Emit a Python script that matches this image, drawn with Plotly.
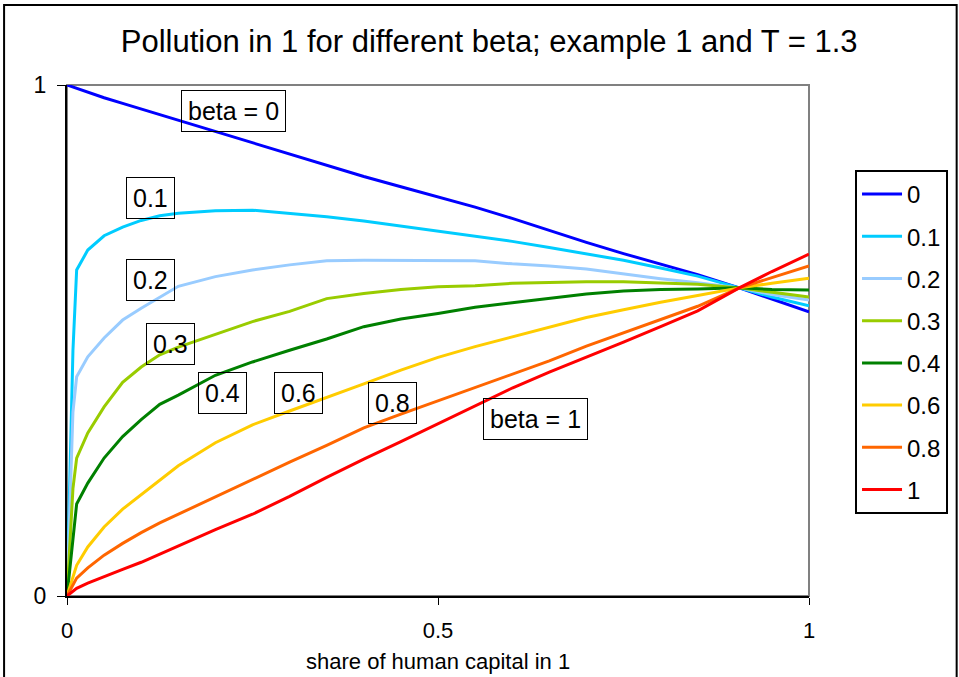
import plotly.graph_objects as go

# shared x grid (share of human capital)
x_share = [0, 0.004, 0.008, 0.013, 0.028, 0.05, 0.075, 0.1, 0.125, 0.15, 0.2, 0.25, 0.3,
           0.35, 0.4, 0.45, 0.5, 0.55, 0.6, 0.65, 0.7, 0.75, 0.8, 0.85, 0.906, 0.95, 1.0]

beta_0 = [1.0, 0.998, 0.996, 0.993, 0.986, 0.975, 0.964, 0.953, 0.941, 0.931, 0.908, 0.886, 0.864,
          0.842, 0.821, 0.801, 0.781, 0.761, 0.739, 0.715, 0.692, 0.670, 0.650, 0.629, 0.603, 0.581, 0.556]
beta_01 = [0.0, 0.22, 0.48, 0.638, 0.677, 0.705, 0.722, 0.735, 0.744, 0.749, 0.754, 0.755, 0.749,
           0.742, 0.734, 0.724, 0.714, 0.704, 0.694, 0.682, 0.670, 0.657, 0.642, 0.626, 0.603, 0.585, 0.568]
beta_02 = [0.0, 0.2, 0.36, 0.429, 0.468, 0.505, 0.540, 0.563, 0.585, 0.606, 0.625, 0.638, 0.648,
           0.656, 0.657, 0.657, 0.657, 0.656, 0.650, 0.646, 0.640, 0.630, 0.621, 0.613, 0.603, 0.590, 0.579]
beta_03 = [0.0, 0.12, 0.21, 0.27, 0.319, 0.37, 0.418, 0.448, 0.472, 0.487, 0.512, 0.537, 0.557,
           0.582, 0.592, 0.600, 0.605, 0.607, 0.612, 0.614, 0.615, 0.615, 0.613, 0.610, 0.603, 0.594, 0.585]
beta_04 = [0.0, 0.06, 0.12, 0.18, 0.221, 0.27, 0.312, 0.345, 0.375, 0.393, 0.432, 0.458, 0.481,
           0.503, 0.527, 0.542, 0.553, 0.565, 0.574, 0.583, 0.591, 0.597, 0.600, 0.601, 0.603, 0.600, 0.599]
beta_06 = [0.0, 0.02, 0.04, 0.06, 0.096, 0.135, 0.17, 0.198, 0.227, 0.255, 0.30, 0.335, 0.362,
           0.388, 0.415, 0.442, 0.467, 0.488, 0.507, 0.527, 0.545, 0.56, 0.575, 0.588, 0.603, 0.612, 0.622]
beta_08 = [0.0, 0.01, 0.02, 0.035, 0.055, 0.08, 0.103, 0.124, 0.143, 0.16, 0.195, 0.228, 0.262,
           0.295, 0.329, 0.356, 0.382, 0.407, 0.433, 0.46, 0.489, 0.515, 0.54, 0.567, 0.603, 0.623, 0.646]
beta_1 = [0.0, 0.005, 0.01, 0.015, 0.025, 0.037, 0.052, 0.066, 0.082, 0.098, 0.13, 0.160, 0.195,
          0.232, 0.268, 0.302, 0.337, 0.372, 0.407, 0.438, 0.467, 0.497, 0.527, 0.558, 0.603, 0.635, 0.669]

series_names = ["0", "0.1", "0.2", "0.3", "0.4", "0.6", "0.8", "1"]
series_values = [beta_0, beta_01, beta_02, beta_03, beta_04, beta_06, beta_08, beta_1]
series_colors = ["#0000FF", "#00CCFF", "#99CCFF", "#99CC00", "#008000", "#FFCC00", "#FF6600", "#FF0000"]

# in-plot labels: text, x, y
label_texts = ["beta = 0", "0.1", "0.2", "0.3", "0.4", "0.6", "0.8", "beta = 1"]
label_x = [0.225, 0.113, 0.113, 0.140, 0.210, 0.312, 0.439, 0.631]
label_y = [0.949, 0.779, 0.618, 0.494, 0.397, 0.397, 0.378, 0.346]

x_ticks = [0, 0.5, 1]
x_tick_text = ["0", "0.5", "1"]
y_ticks = [0, 1]
y_tick_text = ["0", "1"]
x_title = "share of human capital in 1"

FONT = "Arial, Liberation Sans, sans-serif"

fig = go.Figure()
for name, vals, col in zip(series_names, series_values, series_colors):
    fig.add_trace(go.Scatter(x=x_share, y=vals, mode="lines", name=name,
                             legendgroup=name,
                             line=dict(color=col, width=3)))

for t, lx, ly in zip(label_texts, label_x, label_y):
    fig.add_annotation(x=lx, y=ly, xref="x", yref="y", text=t, showarrow=False,
                       font=dict(family=FONT, size=25, color="black"),
                       bordercolor="black", borderwidth=1, borderpad=6)

# x-axis title
fig.add_annotation(x=0.5, y=-0.128, xref="paper", yref="paper", text=x_title,
                   showarrow=False, xanchor="center", yanchor="middle",
                   font=dict(family=FONT, size=22, color="black"))

# plot-area frame (gray top/right), outer chart border
fig.add_shape(type="rect", xref="paper", yref="paper", x0=0, x1=1, y0=0, y1=1,
              line=dict(color="#808080", width=2), layer="below")
fig.add_shape(type="rect", xref="paper", yref="paper", x0=-0.0848, x1=1.199, y0=-0.2, y1=1.1566,
              line=dict(color="black", width=2), layer="below")

fig.update_layout(
    width=959, height=677,
    margin=dict(l=67, r=149, t=85, b=81),
    paper_bgcolor="white", plot_bgcolor="white",
    font=dict(family=FONT, size=22, color="black"),
    title=dict(text="Pollution in 1 for different beta; example 1 and T = 1.3",
               font=dict(family=FONT, size=31, color="black"),
               x=0.569, xref="paper", xanchor="center",
               y=1 - 41 / 677, yref="container", yanchor="middle"),
    showlegend=True,
    legend=dict(x=1.0606, y=0.8337, xanchor="left", yanchor="top",
                bordercolor="black", borderwidth=2, bgcolor="white",
                font=dict(family=FONT, size=24, color="black"),
                tracegroupgap=8, itemwidth=40),
    xaxis=dict(range=[0, 1], tickvals=x_ticks, ticktext=x_tick_text,
               showgrid=False, zeroline=False, showline=True, linecolor="black", linewidth=2,
               ticks="outside", ticklen=7, tickcolor="black", tickwidth=1,
               ticklabelstandoff=7,
               tickfont=dict(family=FONT, size=22)),
    yaxis=dict(range=[0, 1], tickvals=y_ticks, ticktext=y_tick_text,
               showgrid=False, zeroline=False, showline=True, linecolor="black", linewidth=2,
               ticks="outside", ticklen=8, tickcolor="black", tickwidth=1,
               ticklabelstandoff=6,
               tickfont=dict(family=FONT, size=23)),
)

fig.write_html("out.html", config={"displayModeBar": False},
               post_script="document.body.style.margin='0';")
